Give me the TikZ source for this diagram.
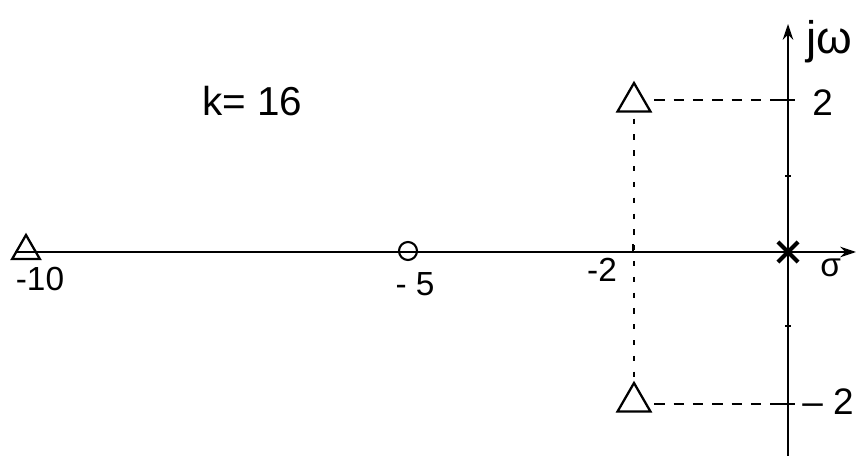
\documentclass[tikz,border=0pt]{standalone}
\usepackage{fontspec}
\setmainfont{Liberation Sans}
\usetikzlibrary{shapes.geometric,shapes.misc,arrows.meta}
\begin{document}
\begin{tikzpicture}[x=0.02cm,y=-0.02cm,
  axisline/.style={line width=0.9pt,-{Stealth[length=9pt,width=6pt]}},
  polemark/.style={draw,line width=1.3pt,regular polygon,regular polygon sides=3,minimum size=0.76cm,inner sep=0pt},
  zeromark/.style={draw,line width=1.2pt,circle,minimum size=0.36cm,inner sep=0pt},
  crossmark/.style={draw,line width=2.4pt,cross out,minimum size=0.32cm,inner sep=0pt},
  guide/.style={line width=0.7pt,dash pattern=on 6pt off 5pt},
  vguide/.style={line width=0.7pt,dash pattern=on 3pt off 6pt},
  lbl/.style={inner sep=0pt,font=\fontsize{19}{21}\selectfont},
  tick/.style={line width=0.8pt}]
\useasboundingbox (0,0) rectangle (860,456);
% axes
\coordinate (rl) at (15,252);
\coordinate (rr) at (856,252);
\coordinate (ib) at (788,456);
\coordinate (it) at (788,24);
\draw[axisline] (rl) -- (rr);
\draw[axisline] (ib) -- (it);
% poles and zeros
\node[polemark,minimum size=0.64cm] (p10) at (26,251) {};
\node[polemark] (pu) at (634,102) {};
\node[polemark] (pl) at (634,402) {};
\node[zeromark] (z5) at (408,251) {};
\node[crossmark] (o) at (788,252) {};
% guide lines
\coordinate (iu) at (788,100);
\coordinate (il) at (788,404);
\draw[guide] (pu.east |- iu) ++(8,0) -- (iu);
\draw[guide] (pl.east |- il) ++(8,0) -- (il);
\draw[vguide] (pu.south) ++(0,6) -- ([yshift=-0.1cm]pl.north);
% ticks
\draw[tick] (781,100) -- (795,100);
\draw[tick] (781,404) -- (795,404);
\draw[tick] (785,176) -- (791,176);
\draw[tick] (785,326) -- (791,326);
\draw[tick] (633,244) -- (633,252);
% labels
\node[lbl,anchor=west,font=\fontsize{26}{28}\selectfont] (jw) at (806,42) {jω};
\node[lbl,anchor=west,font=\fontsize{21}{23}\selectfont] (l2) at (812,103) {2};
\node[lbl,anchor=west,font=\fontsize{21}{23}\selectfont] (lm2) at (802,402) {– 2};
\node[lbl,anchor=west] (sg) at (820,268) {σ};
\node[lbl] (l10) at (40,279) {-10};
\node[lbl] (l5) at (415,284) {- 5};
\node[lbl] (l2r) at (602,270) {-2};
\node[lbl,anchor=west,font=\fontsize{23}{25}\selectfont] (k) at (202,101) {k= 16};
\end{tikzpicture}
\end{document}
